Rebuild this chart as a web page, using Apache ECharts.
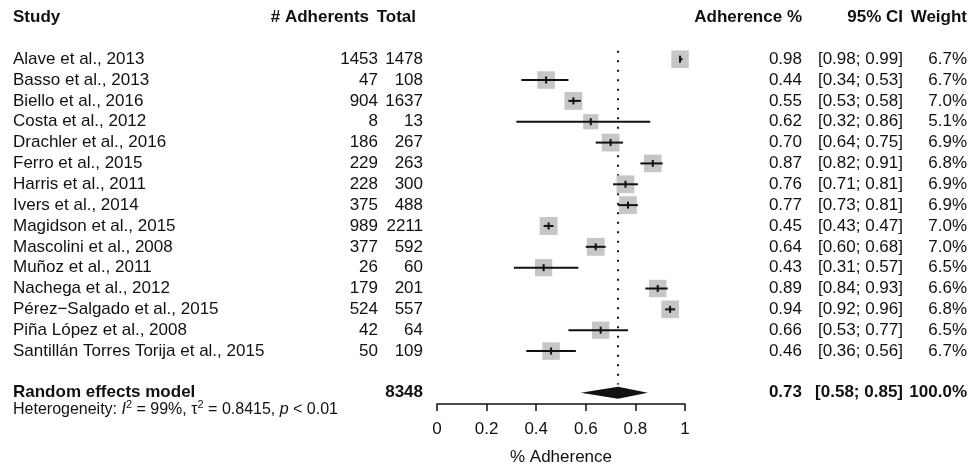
<!DOCTYPE html>
<html>
<head>
<meta charset="utf-8">
<script src="https://cdn.jsdelivr.net/npm/echarts@6/dist/echarts.min.js"></script>
<style>
html,body{margin:0;padding:0;background:#fff;}
#chart{width:973px;height:466px;}
</style>
</head>
<body>
<div id="chart"></div>
<script>
const studies = ["Alave et al., 2013","Basso et al., 2013","Biello et al., 2016","Costa et al., 2012","Drachler et al., 2016","Ferro et al., 2015","Harris et al., 2011","Ivers et al., 2014","Magidson et al., 2015","Mascolini et al., 2008","Muñoz et al., 2011","Nachega et al., 2012","Pérez−Salgado et al., 2015","Piña López et al., 2008","Santillán Torres Torija et al., 2015"];
const adherents = [1453,47,904,8,186,229,228,375,989,377,26,179,524,42,50];
const totals = [1478,108,1637,13,267,263,300,488,2211,592,60,201,557,64,109];
const estimates = [0.98,0.44,0.55,0.62,0.70,0.87,0.76,0.77,0.45,0.64,0.43,0.89,0.94,0.66,0.46];
const lowers = [0.98,0.34,0.53,0.32,0.64,0.82,0.71,0.73,0.43,0.60,0.31,0.84,0.92,0.53,0.36];
const uppers = [0.99,0.53,0.58,0.86,0.75,0.91,0.81,0.81,0.47,0.68,0.57,0.93,0.96,0.77,0.56];
const weights = [6.7,6.7,7.0,5.1,6.9,6.8,6.9,6.9,7.0,7.0,6.5,6.6,6.8,6.5,6.7];
const pooled = {est:0.73, lo:0.58, hi:0.85, total:8348, weight:100.0};
const xTicks = [0,0.2,0.4,0.6,0.8,1];
const headers = ["Study","# Adherents","Total","Adherence %","95% CI","Weight"];

const FONT = "'Liberation Sans', Arial, Helvetica, sans-serif";
const FS = 17;
const TXT = '#111';
const firstRow = 2;       // row index of first study
const reRow = firstRow + studies.length + 1;
const hetRow = reRow + 0.82;

// column positions (px)
const colStudy = 13;
const colAdh = 378, colAdhHead = 369;
const colTot = 423, colTotHead = 416;
const colEst = 802, colCI = 903, colCIHead = 903, colW = 967;

const chart = echarts.init(document.getElementById('chart'), null, {renderer:'canvas'});

const forestData = studies.map((s,i)=>[estimates[i], firstRow+i, lowers[i], uppers[i], weights[i]]);
const textData = studies.map((s,i)=>[0, firstRow+i, i]);

function txt(x, y, str, align, bold, size){
  return {type:'text', style:{x:x, y:y, text:str, fill:TXT, font:(bold?'bold ':'')+(size||FS)+'px '+FONT, align:align, verticalAlign:'middle'}};
}

const option = {
  animation:false,
  backgroundColor:'#fff',
  grid:{left:437, width:248, top:17.5, height:386.5, containLabel:false, outerBoundsMode:'none'},
  xAxis:{type:'value', min:0, max:1, interval:0.2,
    axisLine:{show:true, onZero:false, lineStyle:{color:'#111', width:1.5}},
    axisTick:{show:true, length:7, lineStyle:{color:'#111', width:1.5}},
    axisLabel:{color:TXT, fontSize:FS, fontFamily:FONT, margin:17,
      formatter:v=>{const t=xTicks.find(a=>Math.abs(a-v)<1e-9); return t===0?'0':t===1?'1':String(t);}},
    splitLine:{show:false},
    name:'% Adherence', nameLocation:'middle', nameGap:45,
    nameTextStyle:{color:TXT, fontSize:FS, fontFamily:FONT}
  },
  yAxis:{type:'value', inverse:true, min:0, max:18.54, show:false, splitLine:{show:false}},
  series:[
    { // dotted reference line at pooled estimate
      type:'custom', silent:true, data:[[pooled.est, 0]],
      renderItem:(params, api)=>{
        const p1 = api.coord([api.value(0), firstRow-0.4]);
        const p2 = api.coord([api.value(0), reRow-0.4]);
        return {type:'line', shape:{x1:p1[0], y1:p1[1], x2:p2[0], y2:p2[1]},
          style:{stroke:'#111', lineWidth:2, lineDash:[2,7.5], lineCap:'butt'}};
      }
    },
    { // study squares + CI
      type:'custom', silent:true, data:forestData,
      encode:{x:0, y:1},
      renderItem:(params, api)=>{
        const est = api.value(0), row = api.value(1), lo = api.value(2), hi = api.value(3), w = api.value(4);
        const c = api.coord([est,row]);
        const pl = api.coord([lo,row]), ph = api.coord([hi,row]);
        const side = 17.5*Math.sqrt(w/6.7);
        return {type:'group', children:[
          {type:'rect', shape:{x:c[0]-side/2, y:c[1]-side/2, width:side, height:side}, style:{fill:'#c6c6c6'}},
          {type:'line', shape:{x1:pl[0], y1:c[1], x2:ph[0], y2:c[1]}, style:{stroke:'#111', lineWidth:2}},
          {type:'line', shape:{x1:c[0], y1:c[1]-3.5, x2:c[0], y2:c[1]+3.5}, style:{stroke:'#111', lineWidth:2}}
        ]};
      }
    },
    { // pooled diamond
      type:'custom', silent:true, data:[[pooled.est, reRow, pooled.lo, pooled.hi]],
      encode:{x:0, y:1},
      renderItem:(params, api)=>{
        const row = api.value(1);
        const c = api.coord([api.value(0), row]);
        const l = api.coord([api.value(2), row]), h = api.coord([api.value(3), row]);
        return {type:'polygon', shape:{points:[[l[0],c[1]],[c[0],c[1]-6],[h[0],c[1]],[c[0],c[1]+6]]}, style:{fill:'#111'}};
      }
    },
    { // study text columns
      type:'custom', silent:true, data:textData,
      encode:{y:1},
      renderItem:(params, api)=>{
        const i = api.value(2);
        const y = api.coord([0, api.value(1)])[1];
        return {type:'group', children:[
          txt(colStudy, y, studies[i], 'left'),
          txt(colAdh, y, String(adherents[i]), 'right'),
          txt(colTot, y, String(totals[i]), 'right'),
          txt(colEst, y, estimates[i].toFixed(2), 'right'),
          txt(colCI, y, '['+lowers[i].toFixed(2)+'; '+uppers[i].toFixed(2)+']', 'right'),
          txt(colW, y, weights[i].toFixed(1)+'%', 'right')
        ]};
      }
    },
    { // header, pooled row, heterogeneity
      type:'custom', silent:true, data:[[0,0]],
      encode:{y:1},
      renderItem:(params, api)=>{
        const yh = api.coord([0,0])[1];
        const yr = api.coord([0,reRow])[1];
        const yt = api.coord([0,hetRow])[1];
        return {type:'group', children:[
          txt(colStudy, yh, headers[0], 'left', true),
          txt(colAdhHead, yh, headers[1], 'right', true),
          txt(colTotHead, yh, headers[2], 'right', true),
          txt(colEst, yh, headers[3], 'right', true),
          txt(colCIHead, yh, headers[4], 'right', true),
          txt(colW, yh, headers[5], 'right', true),
          txt(colStudy, yr, 'Random effects model', 'left', true),
          txt(colTot, yr, String(pooled.total), 'right', true),
          txt(colEst, yr, pooled.est.toFixed(2), 'right', true),
          txt(colCI, yr, '['+pooled.lo.toFixed(2)+'; '+pooled.hi.toFixed(2)+']', 'right', true),
          txt(colW, yr, pooled.weight.toFixed(1)+'%', 'right', true),
          {type:'text', style:{x:colStudy, y:yt, fill:TXT, align:'left', verticalAlign:'middle',
            text:'Heterogeneity: {i|I}{s|2} = 99%, τ{s|2} = 0.8415, {i|p} < 0.01',
            font:'16px '+FONT,
            rich:{i:{fontStyle:'italic', fontSize:16, fontFamily:FONT, fill:TXT},
                  s:{fontSize:11, fontFamily:FONT, fill:TXT, padding:[0,0,9,0]}}}}
        ]};
      }
    }
  ]
};
chart.setOption(option);
</script>
</body>
</html>
